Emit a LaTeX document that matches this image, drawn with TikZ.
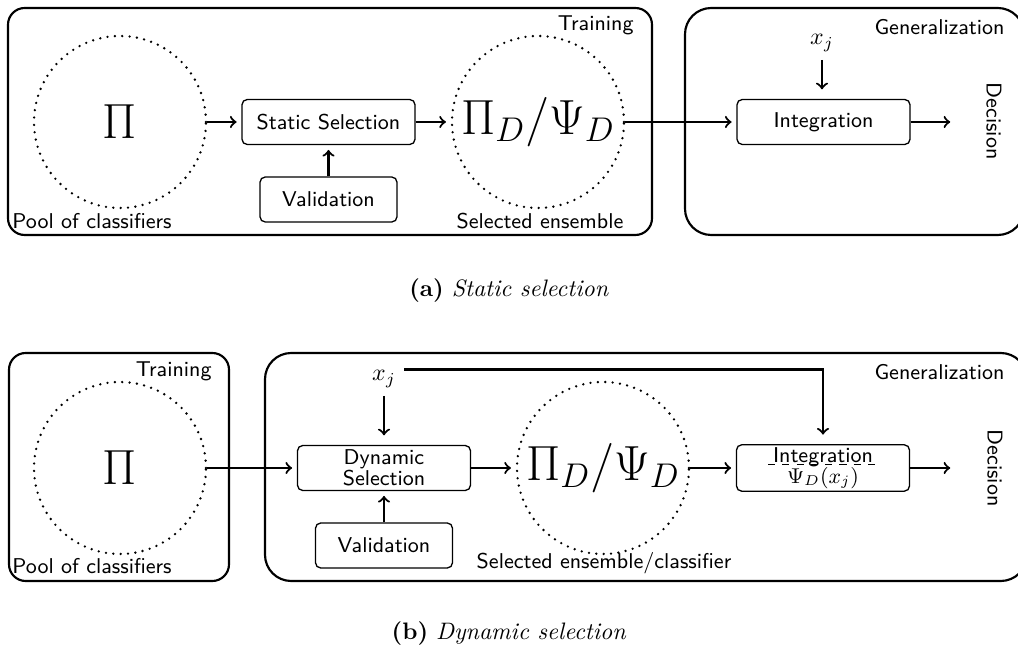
\documentclass[tikz,border=0pt]{standalone}
\usetikzlibrary{calc}
\newcommand\pxu{0.42pt}
\begin{document}
\begin{tikzpicture}[x=0.42pt,y=-0.42pt,
  every node/.style={font=\fontsize{9}{9}\selectfont\sffamily},
  outer/.style={draw, line width=0.9pt, rounded corners=7pt, inner sep=0pt},
  genbox/.style={outer, rounded corners=11pt},
  inbox/.style={draw, line width=0.55pt, rounded corners=2.2pt, minimum height=45*\pxu, inner sep=1pt, align=center},
  pool/.style={circle, draw, line width=1.1pt, dash pattern=on 0pt off 3.1pt, line cap=round, minimum size=172*\pxu, inner sep=0pt, font=\fontsize{20.74}{24}\selectfont},
  arr/.style={->, line width=0.9pt, shorten >=2pt},
  lbl/.style={inner sep=0pt},
  mathlbl/.style={font=\fontsize{10}{12}\selectfont},
  captxt/.style={font=\fontsize{10}{12}\selectfont\rmfamily},
]
\clip (0,0) rectangle (1018,653);
% ---------------- (a) ----------------
\node[outer, minimum width=644*\pxu, minimum height=227*\pxu] (trainA) at (330,121.5) {};
\node[genbox, minimum width=339*\pxu, minimum height=227*\pxu] (genA) at (854.5,121.5) {};
\node[lbl, anchor=east] (trA) at (634,25) {Training};
\node[lbl, anchor=east] (geA) at (1005,27) {Generalization};
\node[lbl, anchor=west] (poolA) at (12,221) {Pool of classifiers};
\node[lbl] (selA) at (540,221) {Selected ensemble};
\node[pool] (piA) at (120,122) {$\Pi$};
\node[inbox, minimum width=173*\pxu] (ssA) at (328.5,122) {Static Selection};
\node[inbox, minimum width=137*\pxu] (valA) at (328.5,199.5) {Validation};
\node[pool] (pdA) at (538,122) {$\Pi_D/\Psi_D$};
\node[inbox, minimum width=173*\pxu] (intA) at (823.5,122) {Integration};
\node[mathlbl] (xjA) at (822,43) {$x_j$};
\node[lbl, rotate=-90] (decA) at (994,121) {Decision};
\coordinate (dA) at (955,122);
\draw[arr] (piA) -- (ssA);
\draw[arr] (ssA) -- (pdA);
\draw[arr] (pdA) -- (intA);
\draw[arr] (intA) -- (dA);
\draw[arr] (valA) -- (ssA);
\draw[arr, shorten >=4pt] (xjA) -- (xjA |- intA.north);
\node[captxt] (capA) at (509,291) {\textbf{(a)} \textit{Static selection}};
% ---------------- (b) ----------------
\node[outer, minimum width=220*\pxu, minimum height=228*\pxu] (trainB) at (119,467) {};
\node[genbox, minimum width=762*\pxu, minimum height=228*\pxu] (genB) at (646,467) {};
\node[lbl, anchor=east] (trB) at (212,371) {Training};
\node[lbl, anchor=east] (geB) at (1005,372) {Generalization};
\node[lbl, anchor=west] (poolB) at (12,566) {Pool of classifiers};
\node[lbl] (selB) at (604,563) {Selected ensemble/classifier};
\node[pool] (piB) at (120,468) {$\Pi$};
\node[inbox, minimum width=173*\pxu] (dsB) at (384,468) {Dynamic\\Selection};
\node[inbox, minimum width=137*\pxu] (valB) at (384,545.5) {Validation};
\node[pool] (pdB) at (603,468) {$\Pi_D/\Psi_D$};
\node[inbox, minimum width=173*\pxu] (intB) at (823,468) {Integration\\$\Psi_D(x_j)$};
\draw[dashed, line width=0.4pt] ($(intB.center)+(-55,-4)$) -- ($(intB.center)+(52,-4)$);
\node[mathlbl] (xjB) at (384,379) {$x_j$};
\node[lbl, rotate=-90] (decB) at (995,468) {Decision};
\coordinate (dB) at (955,468);
\draw[arr] (piB) -- (dsB);
\draw[arr] (dsB) -- (pdB);
\draw[arr] (pdB) -- (intB);
\draw[arr] (intB) -- (dB);
\draw[arr] (valB) -- (dsB);
\draw[arr, shorten >=4pt] (xjB) -- (xjB |- dsB.north);
\draw[arr, shorten >=4pt] ([yshift=4pt]xjB.east) -| (intB.north);
\node[captxt] (capB) at (509,634) {\textbf{(b)} \textit{Dynamic selection}};
\end{tikzpicture}
\end{document}
